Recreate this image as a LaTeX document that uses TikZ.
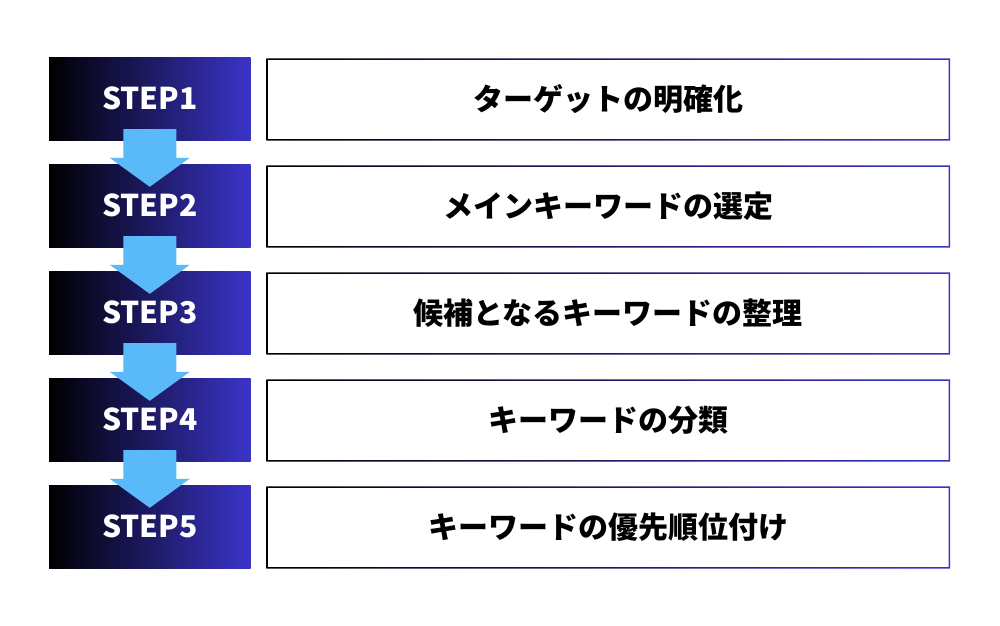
\documentclass[tikz,border=0pt]{standalone}
\usepackage{fontspec}
\setmainfont{Noto Sans CJK JP}
\usetikzlibrary{calc}
\definecolor{stepblue}{RGB}{58,52,200}
\definecolor{arrowblue}{RGB}{90,185,249}
\begin{document}
\begin{tikzpicture}[x=1pt,y=-1pt,
    stepbox/.style={shade, left color=black, right color=stepblue, minimum width=201.5pt, minimum height=83pt, inner sep=0pt, text=white, font=\fontsize{30}{30}\selectfont\bfseries},
    taskbox/.style={fill=white, minimum width=683.5pt, minimum height=82pt, inner sep=0pt, font=\fontsize{30}{30}\selectfont\bfseries}]
    \useasboundingbox (0,0) rectangle (1000,625);
    % steps and their tasks
    \def\tasks{ターゲットの明確化, メインキーワードの選定, 候補となるキーワードの整理, キーワードの分類, キーワードの優先順位付け}
    \foreach \t [count=\i] in \tasks {
        \node (s\i) [stepbox] at (149.75, 98.5+107*\i-107) {STEP\i};
        \node (t\i) [taskbox] at (608.25, 99.5+107*\i-107) {\t};
        \shade[left color=black, right color=stepblue, even odd rule] (t\i.north west) rectangle (t\i.south east) ($(t\i.north west)+(1.5,1.5)$) rectangle ($(t\i.south east)+(-1.5,-1.5)$);
    }
    % arrows between steps
    \foreach \i [evaluate=\i as \j using int(\i+1)] in {1,...,4} {
        \fill[arrowblue] ($(s\i.south)+(-26.5,-11)$) -- ($(s\i.south)+(26.5,-11)$) -- ($(s\j.north)+(26.5,-6)$) -- ($(s\j.north)+(40,-6)$) -- ($(s\j.north)+(0,23)$) -- ($(s\j.north)+(-40,-6)$) -- ($(s\j.north)+(-26.5,-6)$) -- cycle;
    }
\end{tikzpicture}
\end{document}
